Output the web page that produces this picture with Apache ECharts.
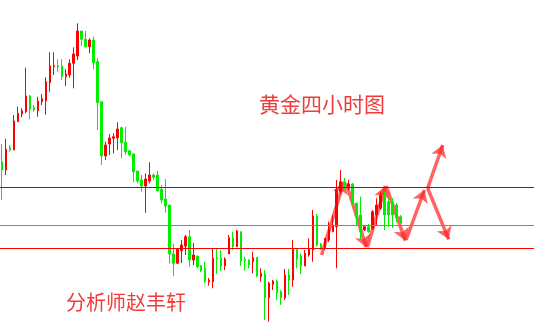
<!DOCTYPE html>
<html>
<head>
<meta charset="utf-8">
<script src="https://cdn.jsdelivr.net/npm/echarts@6/dist/echarts.min.js"></script>
<style>
  html, body { margin: 0; padding: 0; background: #fff; }
  #chart { width: 534px; height: 326px; }
</style>
</head>
<body>
<div id="chart"></div>
<script>
// Gold, 4-hour bars: open / close / low / high
const opens  = [1838.3,1830,1852.3,1850,1878.3,1886,1888.3,1904,1892.3,1889.3,
                1898.3,1899.3,1917.3,1933.3,1934.3,1934,1923.3,1925,1936.7,1944,
                1969,1960.7,1953.3,1960,1938.3,1898.3,1844,1856,1861.7,1862.3,
                1872.3,1857.7,1849.3,1846,1829,1820,1814,1819,1825,1825,
                1810.7,1801,1795,1746,1736.7,1749.3,1754,1763.3,1740,1744,
                1734.3,1731.7,1718.3,1718.3,1742.3,1741.7,1734.3,1746,1762.3,1753.3,
                1768.3,1740.7,1740,1738.3,1742.7,1723.3,1726,1702.3,1715.7,1719,
                1708.3,1702.3,1725,1720,1750.7,1744,1734,1745,1750,1784,
                1756,1751.7,1760,1768.3,1773.3,1808.3,1818,1812,1816,1796.7,
                1785,1770,1773.3,1771.7,1785,1791.7,1803.3,1798.3,1797,1795,
                1783.3];
const closes = [1830,1850.7,1850,1879,1886.7,1889.3,1904,1890.7,1890,1899,
                1901.3,1918.3,1934,1934.3,1933.3,1923.3,1926,1936.7,1946,1969,
                1960.7,1953.3,1960,1937.3,1897.3,1844,1855,1862,1863.3,1871,
                1857.3,1848.3,1845,1828.3,1819,1814,1821,1825,1822.7,1809.3,
                1800,1794,1746,1736.7,1750.7,1755,1763.3,1740,1745,1733.3,
                1729.3,1718.3,1719.7,1741.7,1741,1734,1741,1762.3,1753.3,1769,
                1739,1739,1735,1742.3,1724,1726.7,1702.3,1716.7,1719,1707.3,
                1702.3,1725,1720,1750.7,1740.7,1734,1746.7,1750.7,1784,1755,
                1751.7,1761.7,1771.7,1775,1810,1818.3,1812,1816,1795.7,1785,
                1768.3,1773.3,1768.3,1788.3,1795,1805,1785,1785,1785,1782,
                1776.7];
const lows   = [1800,1825,1848.3,1850,1878.3,1882.7,1886.7,1880.7,1888.3,1883.3,
                1895,1885.3,1908.3,1925,1928.3,1920,1914,1922.3,1911.7,1940,
                1954,1952.7,1946.7,1930.7,1870,1835,1840,1845,1846.7,1850,
                1841.7,1845,1844,1817.7,1816.7,1808.3,1787.3,1816.7,1820,1808.3,
                1796.7,1787.3,1736.7,1724,1736.7,1737,1745,1733.3,1735,1731.7,
                1727.7,1716.7,1714.3,1711.7,1726,1729,1730,1746,1750,1753.3,
                1734,1729.3,1731.7,1726.7,1722.7,1718.3,1680,1678.3,1710,1700,
                1695,1700,1705,1713.3,1731.7,1726,1734,1743.3,1738.3,1753.3,
                1750,1750,1758,1768,1731.7,1806,1810,1810,1795,1775,
                1760,1769,1767.3,1770,1775,1790,1770,1773.3,1772,1778,
                1776];
const highs  = [1856,1861.3,1855,1885,1893.3,1891.7,1932.3,1905,1895,1903.3,
                1906,1922.7,1947.7,1947.7,1940.7,1940.7,1930.7,1940.7,1952.7,1976.7,
                1969,1969,1961.7,1963.3,1941.7,1898.3,1858.3,1866,1866.7,1877.7,
                1873.3,1873.3,1850,1846.7,1829,1825,1826.7,1837.7,1826.7,1829.3,
                1815,1821,1795,1756,1750.7,1760,1765,1770,1757,1744,
                1735,1738.3,1722,1751.7,1751.7,1750,1742.7,1765,1768.3,1770,
                1768.3,1743.3,1740.7,1748.3,1742.7,1731.7,1730,1718.3,1720,1720.7,
                1710,1731,1731,1760,1751.7,1746.7,1750,1761.7,1790,1786,
                1757,1762,1778.3,1785,1820,1830,1822,1820,1817,1797.3,
                1803.3,1775,1776,1790,1801.7,1808.3,1808.3,1801.7,1802,1797,
                1785];

// Horizontal price levels
const upperLevel = 1812.7;
const midLevel   = 1774.7;
const lowerLevel = 1751.7;

// Projected swings: [bar, price] -> [bar, price]
const swings = [
  [[80.2, 1745.0], [85.8, 1818.3]],
  [[86.4, 1816.7], [91.4, 1752.7]],
  [[91.7, 1752.7], [96.2, 1814.0]],
  [[96.4, 1814.0], [101.2, 1759.3]],
  [[101.4, 1760.0], [106.0, 1810.0]],
  [[106.8, 1811.7], [110.6, 1855.0]],
  [[106.8, 1812.0], [112.1, 1760.7]]
];

const titleText  = '黄金四小时图';
const authorText = '分析师赵丰轩';

const slotCount = 134;
const slots = Array.from({ length: slotCount }, (_, i) => String(i));
const bars = opens.map((o, i) => [o, closes[i], lows[i], highs[i]]);

const chart = echarts.init(document.getElementById('chart'));
chart.setOption({
  animation: false,
  backgroundColor: '#ffffff',
  grid: { left: -1, right: -1, top: 0, bottom: 0 },
  xAxis: [
    { type: 'category', data: slots, show: false, boundaryGap: true },
    { type: 'value', min: -0.5, max: slotCount - 0.5, show: false }
  ],
  yAxis: { type: 'value', min: 1674, max: 2000, show: false, splitLine: { show: false } },
  graphic: [
    { type: 'text', left: 259, top: 94,
      style: { text: titleText, fill: '#f03c3c', font: '21px "Noto Sans CJK SC"' } },
    { type: 'text', left: 66, top: 292,
      style: { text: authorText, fill: '#f03c3c', font: '20px "Noto Sans CJK SC"' } }
  ],
  series: [
    {
      type: 'candlestick',
      data: bars,
      barWidth: 2,
      itemStyle: {
        color: '#ff0000', color0: '#00ee00',
        borderColor: '#ff0000', borderColor0: '#00ee00',
        borderWidth: 1
      },
      markLine: {
        silent: true,
        symbol: 'none',
        label: { show: false },
        data: [
          { yAxis: upperLevel, lineStyle: { color: '#cc0000', width: 1, type: 'solid' } },
          { yAxis: midLevel,   lineStyle: { color: '#7d8792', width: 1, type: 'solid' } },
          { yAxis: lowerLevel, lineStyle: { color: '#ff0000', width: 1, type: 'solid' } }
        ]
      }
    },
    {
      type: 'lines',
      coordinateSystem: 'cartesian2d',
      xAxisIndex: 1,
      yAxisIndex: 0,
      symbol: ['none', 'arrow'],
      symbolSize: 12,
      lineStyle: { color: 'rgba(255,40,40,0.85)', width: 3.5, opacity: 0.85 },
      data: swings.map(s => ({ coords: s }))
    }
  ]
});
</script>
</body>
</html>
